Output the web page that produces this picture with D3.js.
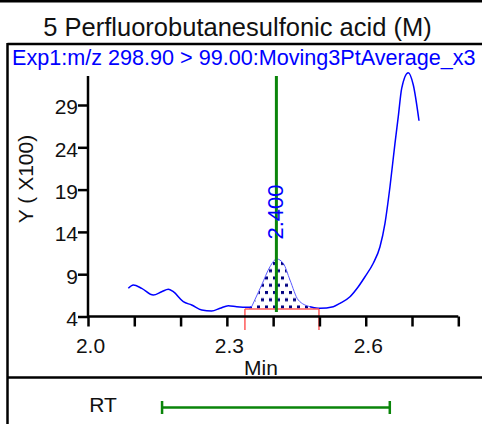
<!DOCTYPE html>
<html><head><meta charset="utf-8">
<script src="https://cdn.jsdelivr.net/npm/d3@7"></script>
<style>
html,body{margin:0;padding:0;background:#fff;overflow:hidden;}
svg{display:block;font-family:"Liberation Sans",Arial,sans-serif;}
</style></head>
<body>
<svg id="c" width="482" height="424"></svg>
<script>
// ---- data ----
const title = "5 Perfluorobutanesulfonic acid (M)";
const traceLabel = "Exp1:m/z 298.90 > 99.00:Moving3PtAverage_x3";
const rtMin = [2.0871,2.0979,2.1160,2.1411,2.1592,2.1735,2.1843,2.2059,2.2240,2.2456,2.2672,2.2852,2.3031,2.3212,2.3463,2.3536,2.3752,2.3932,2.4076,2.4219,2.4364,2.4543,2.4796,2.5012,2.5299,2.5444,2.5660,2.5839,2.5984,2.6163,2.6308,2.6416,2.6524,2.6632,2.6703,2.6777,2.6919,2.7028,2.7151];
const intensity = [7.33,7.72,7.33,6.54,6.93,7.22,6.93,5.75,5.36,4.77,4.65,4.97,5.28,5.16,5.09,5.16,7.72,9.89,10.80,10.29,8.31,5.95,5.16,4.97,5.16,5.56,6.34,7.52,8.70,10.29,12.25,15.02,19.34,24.47,27.62,30.97,32.82,31.36,27.14];
const xTicks = [2.0,2.1,2.2,2.3,2.4,2.5,2.6,2.7,2.8];
const xTickLabels = ["2.0","","","2.3","","","2.6","",""];
const yTicks = [4,9,14,19,24,29];
const yTickLabels = ["4","9","14","19","24","29"];
const peakStart = 2.339, peakEnd = 2.499, peakBase = 4.89;
const rtMarker = 2.407, rtLabel = "2.400";
const rtWindow = [2.160, 2.652];

// ---- layout ----
const svg = d3.select("#c");
const x = d3.scaleLinear().domain([2.0, 2.8]).range([88, 458.3]);
const y = d3.scaleLinear().domain([4, 29]).range([316.5, 105]);
const yTop = 76;

// frame
svg.append("rect").attr("x",0).attr("y",0).attr("width",482).attr("height",2.5).attr("fill","#000");
svg.append("line").attr("x1",7.5).attr("x2",482).attr("y1",44).attr("y2",44).attr("stroke","#000").attr("stroke-width",2.5);
svg.append("line").attr("x1",7.5).attr("x2",7.5).attr("y1",43).attr("y2",424).attr("stroke","#000").attr("stroke-width",2.5);
svg.append("line").attr("x1",7.5).attr("x2",482).attr("y1",377.5).attr("y2",377.5).attr("stroke","#000").attr("stroke-width",2.5);

svg.append("text").attr("x",237.5).attr("y",36).attr("text-anchor","middle").attr("font-size",25.5).attr("fill","#111").text(title);
svg.append("text").attr("x",12).attr("y",65).attr("font-size",21.6).attr("fill","#0000ff").text(traceLabel);

// pattern
const defs = svg.append("defs");
const pat = defs.append("pattern").attr("id","dots").attr("patternUnits","userSpaceOnUse")
  .attr("width",8).attr("height",14.5).attr("x",0).attr("y",0);
pat.append("rect").attr("x",1).attr("y",1).attr("width",3).attr("height",3).attr("fill","#000080");
pat.append("rect").attr("x",5).attr("y",8.25).attr("width",3).attr("height",3).attr("fill","#000080");

const pts = rtMin.map((t,i)=>({t, v:intensity[i]}));

// filled peak
const peakPts = pts.filter(p => p.t >= 2.346 && p.t <= 2.502);
const area = d3.area().x(d=>x(d.t)).y0(y(peakBase)).y1(d=>y(d.v)).curve(d3.curveMonotoneX);
svg.append("path").datum(peakPts).attr("d",area).attr("fill","url(#dots)");

// curve
const line = d3.line().x(d=>x(d.t)).y(d=>y(d.v)).curve(d3.curveMonotoneX);
const seg1 = pts.filter(p => p.t <= 2.3536);
const seg2 = pts.filter(p => p.t >= 2.3536 && p.t <= 2.4796);
const seg3 = pts.filter(p => p.t >= 2.4796);
svg.append("path").datum(seg1).attr("d",line).attr("fill","none").attr("stroke","#0000ff").attr("stroke-width",1.5);
svg.append("path").datum(seg2).attr("d",line).attr("fill","none").attr("stroke","#5a5aff").attr("stroke-width",1);
svg.append("path").datum(seg3).attr("d",line).attr("fill","none").attr("stroke","#0000ff").attr("stroke-width",1.5);

// red integration bracket
const red = "#ff5a5a";
svg.append("line").attr("x1",x(peakStart)).attr("x2",x(peakEnd)).attr("y1",y(peakBase)).attr("y2",y(peakBase)).attr("stroke",red).attr("stroke-width",1.5);
[peakStart, peakEnd].forEach(t=>{
  svg.append("line").attr("x1",x(t)).attr("x2",x(t)).attr("y1",y(peakBase)).attr("y2",330).attr("stroke",red).attr("stroke-width",1.5);
});

// axes
const xAxis = d3.axisBottom(x).tickValues(xTicks).tickSize(10).tickFormat((d,i)=>xTickLabels[i]);
const gx = svg.append("g").attr("transform",`translate(0,${y(4)})`).call(xAxis);
gx.select(".domain").attr("d",`M${x(2.0)},0H${x(2.8)}`).attr("stroke","#000").attr("stroke-width",2.5);
gx.selectAll(".tick line").attr("stroke","#000").attr("stroke-width",2.5);
gx.selectAll(".tick text").attr("font-size",21).attr("fill","#111").attr("font-family","Liberation Sans, Arial, sans-serif").attr("dy","1.1em").attr("dx",2);

const yAxis = d3.axisLeft(y).tickValues(yTicks).tickSize(10).tickFormat((d,i)=>yTickLabels[i]);
const gy = svg.append("g").attr("transform",`translate(${x(2.0)},0)`).call(yAxis);
gy.select(".domain").attr("d",`M0,${yTop}V${y(4)}`).attr("stroke","#000").attr("stroke-width",2.5);
gy.selectAll(".tick line").attr("stroke","#000").attr("stroke-width",2.5);
gy.selectAll(".tick text").attr("font-size",21).attr("fill","#111").attr("font-family","Liberation Sans, Arial, sans-serif").attr("x",-10).attr("dy","0.42em");

svg.append("text").attr("x",261).attr("y",375).attr("text-anchor","middle").attr("font-size",21).attr("fill","#111").text("Min");
svg.append("text").attr("transform","translate(33,179) rotate(-90)").attr("text-anchor","middle").attr("font-size",21).attr("fill","#111").text("Y ( X100)");

// RT marker
svg.append("line").attr("x1",x(rtMarker)).attr("x2",x(rtMarker)).attr("y1",yTop).attr("y2",312).attr("stroke","#0a850a").attr("stroke-width",3);
svg.append("text").attr("transform",`translate(${x(rtMarker)+7},212) rotate(-90)`).attr("text-anchor","middle").attr("font-size",22).attr("fill","#0000ff").text(rtLabel);

// bottom panel RT window
svg.append("text").attr("x",103).attr("y",412).attr("text-anchor","middle").attr("font-size",21).attr("fill","#111").text("RT");
const g2 = "#0a850a";
svg.append("line").attr("x1",x(rtWindow[0])).attr("x2",x(rtWindow[1])).attr("y1",407.5).attr("y2",407.5).attr("stroke",g2).attr("stroke-width",2.5);
rtWindow.forEach(t=>{
  svg.append("line").attr("x1",x(t)).attr("x2",x(t)).attr("y1",401).attr("y2",414).attr("stroke",g2).attr("stroke-width",2.5);
});
</script>
</body></html>
